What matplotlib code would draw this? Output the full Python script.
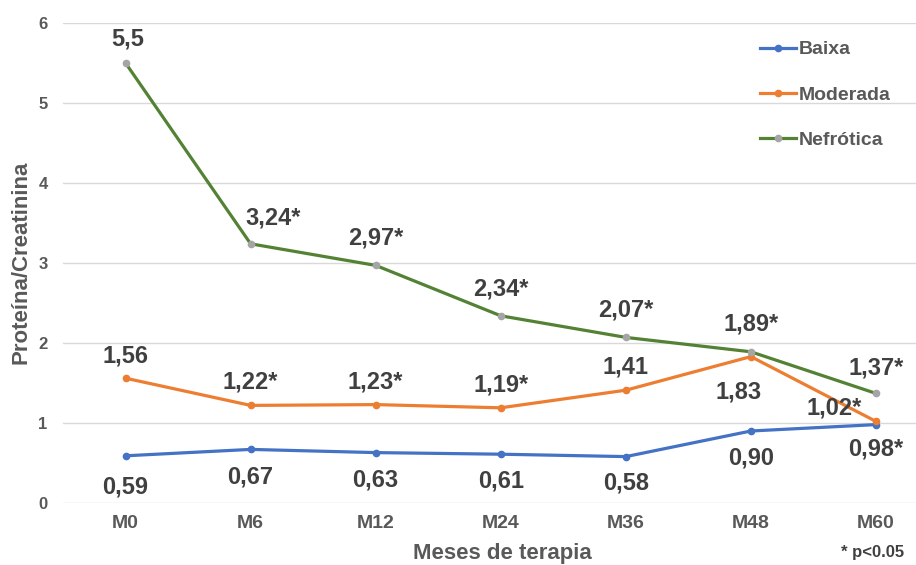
import numpy as np
import matplotlib
import matplotlib.pyplot as plt
matplotlib.use('Agg')

plt.rcParams['font.family'] = ['Liberation Sans', 'DejaVu Sans']
plt.rcParams['font.weight'] = 'bold'

meses = ['M0', 'M6', 'M12', 'M24', 'M36', 'M48', 'M60']
baixa = [0.59, 0.67, 0.63, 0.61, 0.58, 0.90, 0.98]
moderada = [1.56, 1.22, 1.23, 1.19, 1.41, 1.83, 1.02]
nefrotica = [5.5, 3.24, 2.97, 2.34, 2.07, 1.89, 1.37]
sig_baixa = ['', '', '', '', '', '', '*']
sig_moderada = ['', '*', '*', '*', '', '', '*']
sig_nefrotica = ['', '*', '*', '*', '*', '*', '*']

TXT = '#595959'
LBL = '#404040'
GRID = '#D9D9D9'

fig = plt.figure(figsize=(9.16, 5.65), dpi=100)
ax = fig.add_axes([63 / 916, 62 / 565, 1 - 63 / 916, 480 / 565])
x = np.arange(len(meses))

series = [
    ('Baixa', baixa, '#4472C4', '#4472C4'),
    ('Moderada', moderada, '#ED7D31', '#ED7D31'),
    ('Nefrótica', nefrotica, '#548235', '#A5A5A5'),
]
for nome, vals, cor, mcor in series:
    ax.plot(x, vals, color=cor, lw=2.3, marker='o', ms=4.5,
            mfc=mcor, mec=mcor, label=nome, zorder=3)


def fmt(v):
    s = ('%.2f' % v).replace('.', ',')
    return '5,5' if v == 5.5 else s


# label offsets in pixels (dx, dy), dy positive = up
off_baixa = [(0, -31), (0, -28), (0, -27), (0, -27), (0, -26), (0, -27), (0, -24)]
off_mod = [(0, 22), (0, 23), (0, 23), (0, 23), (0, 23), (-12, -35), (-42, 13)]
off_nef = [(2, 24), (22, 26), (0, 27), (0, 27), (0, 27), (0, 28), (0, 25)]

for vals, sig, offs in [(baixa, sig_baixa, off_baixa),
                        (moderada, sig_moderada, off_mod),
                        (nefrotica, sig_nefrotica, off_nef)]:
    for i, v in enumerate(vals):
        dx, dy = offs[i]
        ax.annotate(fmt(v) + sig[i], (x[i], v), xytext=(dx * 0.72, dy * 0.72),
                    textcoords='offset points', ha='center', va='center',
                    fontsize=17, color=LBL, fontweight='bold')

ax.set_xlim(-0.5, 6.32)
ax.set_ylim(0, 6)
ax.set_yticks(range(7))
ax.set_xticks(x)
ax.set_xticklabels(meses)
ax.grid(axis='y', color=GRID, lw=1)
ax.set_axisbelow(True)
for s in ax.spines.values():
    s.set_visible(False)
ax.tick_params(length=0, labelcolor=TXT)
ax.tick_params(axis='x', labelsize=14, pad=9)
ax.tick_params(axis='y', labelsize=12, pad=11)

fig.text(21 / 916, 1 - 262 / 565, 'Proteína/Creatinina', rotation=90,
         ha='center', va='center', fontsize=16, color=TXT, fontweight='bold')
fig.text(502 / 916, 1 - 553 / 565, 'Meses de terapia', ha='center',
         va='center', fontsize=16, color=TXT, fontweight='bold')
fig.text(873 / 916, 1 - 553 / 565, '* p<0.05', ha='center', va='center',
         fontsize=12, color=LBL, fontweight='bold')

leg = ax.legend(loc='upper left', bbox_to_anchor=(750 / 916, 1 - 31 / 565),
                bbox_transform=fig.transFigure, frameon=False, fontsize=14,
                borderpad=0, labelspacing=1.42, handlelength=1.85,
                handletextpad=0.15)
for t in leg.get_texts():
    t.set_color(TXT)
    t.set_fontweight('bold')

fig.savefig('out.png', dpi=100, facecolor='white')
